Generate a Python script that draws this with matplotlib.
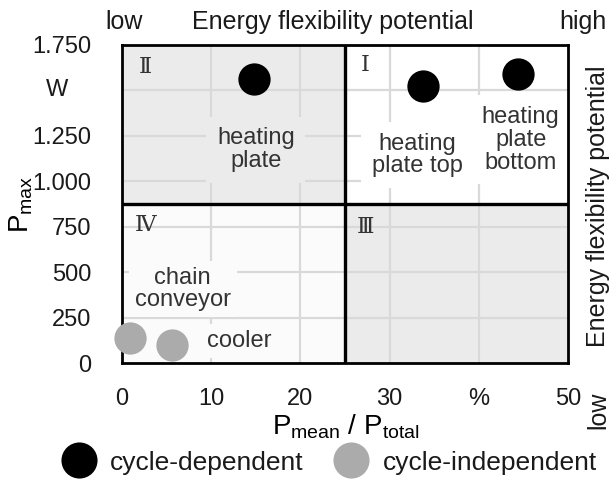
import matplotlib
matplotlib.use("Agg")
import matplotlib.pyplot as plt
from matplotlib.patches import Rectangle
from matplotlib.lines import Line2D

plt.rcParams['font.family'] = ['Liberation Sans', 'DejaVu Sans']
plt.rcParams['mathtext.fontset'] = 'custom'
plt.rcParams['mathtext.rm'] = 'Liberation Sans'
plt.rcParams['mathtext.it'] = 'Liberation Sans'

# ---- data ----
dep_names = ["heating\nplate", "heating\nplate top", "heating\nplate\nbottom"]
dep_x = [14.8, 33.8, 44.4]
dep_y = [1565, 1525, 1588]
dep_label_x = [15.0, 33.1, 44.7]
dep_label_y = [1173, 1145, 1228]

indep_names = ["chain\nconveyor", "cooler"]
indep_x = [0.9, 5.6]
indep_y = [138, 99]
indep_label_x = [6.8, 13.1]
indep_label_y = [407, 121]

x_ticks = [0, 10, 20, 30, 40, 50]
x_tick_labels = ["0", "10", "20", "30", "%", "50"]
y_ticks = [0, 250, 500, 750, 1000, 1250, 1500, 1750]
y_tick_labels = ["0", "250", "500", "750", "1.000", "1.250", "", "1.750"]

x_split = 25
y_split = 875
x_max = 50
y_max = 1750

quadrant_names = ["Ⅰ", "Ⅱ", "Ⅲ", "Ⅳ"]
quadrant_lx = [27.3, 2.6, 27.3, 2.6]
quadrant_ly = [1640, 1630, 750, 760]

legend_labels = ["cycle-dependent", "cycle-independent"]

# ---- colors ----
c_dep = "#000000"
c_indep = "#ababab"
bg_grey = "#ebebeb"
bg_white = "#ffffff"
bg_offwhite = "#fbfbfb"
grid_c = "#d9d9d9"
txt_c = "#1a1a1a"

fig = plt.figure(figsize=(6.11, 4.80), dpi=100)
ax = fig.add_axes([0.1997, 0.2437, 0.7299, 0.6626])
ax.set_xlim(0, x_max)
ax.set_ylim(0, y_max)

# quadrant backgrounds: I (top-right), II (top-left), III (bottom-right), IV (bottom-left)
quad_rects = [
    (x_split, y_split, x_max - x_split, y_max - y_split, bg_white),
    (0, y_split, x_split, y_max - y_split, bg_grey),
    (x_split, 0, x_max - x_split, y_split, bg_grey),
    (0, 0, x_split, y_split, bg_offwhite),
]
for (x0, y0, w, h, col) in quad_rects:
    ax.add_patch(Rectangle((x0, y0), w, h, facecolor=col, edgecolor='none', zorder=0))

# grid
for xv in x_ticks[1:-1]:
    ax.axvline(xv, color=grid_c, lw=1.6, zorder=1)
for yv in y_ticks[1:-1]:
    ax.axhline(yv, color=grid_c, lw=1.6, zorder=1)

# dividers
ax.axvline(x_split, color='black', lw=2.4, zorder=3)
ax.axhline(y_split, color='black', lw=2.4, zorder=3)

for s in ax.spines.values():
    s.set_linewidth(2.0)
    s.set_color('black')
    s.set_zorder(4)

ax.set_xticks(x_ticks)
ax.set_xticklabels(x_tick_labels)
ax.set_yticks(y_ticks)
ax.set_yticklabels(y_tick_labels)
ax.tick_params(axis='both', length=0, labelsize=17, colors=txt_c, labelcolor=txt_c)
ax.tick_params(axis='x', pad=18)
ax.tick_params(axis='y', pad=22)

# unit
ax.text(-0.146, 1500, "W", transform=ax.get_yaxis_transform(), ha='center', va='center',
        fontsize=17, color=txt_c)

# labels
dep_bg = [bg_grey, bg_white, bg_white]
for name, lx, ly, bgc in zip(dep_names, dep_label_x, dep_label_y, dep_bg):
    ax.text(lx, ly, name, ha='center', va='center', fontsize=17, color='#333333',
            linespacing=1.05, zorder=2,
            bbox=dict(boxstyle='square,pad=0.45', facecolor=bgc, edgecolor='none'))
indep_bg = [bg_offwhite, bg_offwhite]
for name, lx, ly, bgc in zip(indep_names, indep_label_x, indep_label_y, indep_bg):
    ax.text(lx, ly, name, ha='center', va='center', fontsize=17, color='#333333',
            linespacing=1.05, zorder=2,
            bbox=dict(boxstyle='square,pad=0.25', facecolor=bgc, edgecolor='none'))

for q, qx, qy in zip(quadrant_names, quadrant_lx, quadrant_ly):
    ax.text(qx, qy, q, ha='center', va='center', fontsize=16, color='#333333',
            family=['DejaVu Serif', 'Noto Sans CJK JP'], zorder=2)

# points
ax.scatter(dep_x, dep_y, s=540, color=c_dep, zorder=6, clip_on=False, linewidths=0)
ax.scatter(indep_x, indep_y, s=540, color=c_indep, zorder=6, clip_on=False, linewidths=0)

# axis labels
ax.set_xlabel(r"$\mathrm{P}_{\mathrm{mean}}$ / $\mathrm{P}_{\mathrm{total}}$", fontsize=20,
              color='black', labelpad=0)
ax.xaxis.set_label_coords(0.336, -0.155)
ax.xaxis.label.set_ha('left')
ax.set_ylabel(r"$\mathrm{P}_{\mathrm{max}}$", fontsize=20, color='black')
ax.yaxis.set_label_coords(-0.195, 0.5)

# top annotations
fig.text(124 / 611, 1 - 22 / 480, "low", ha='center', va='center', fontsize=18, color=txt_c)
fig.text(333 / 611, 1 - 22 / 480, "Energy flexibility potential", ha='center', va='center',
         fontsize=18, color=txt_c)
fig.text(583 / 611, 1 - 22 / 480, "high", ha='center', va='center', fontsize=18, color=txt_c)
fig.text(598 / 611, 1 - 206 / 480, "Energy flexibility potential", ha='center', va='center',
         rotation=90, fontsize=18, color=txt_c)
fig.text(598 / 611, 1 - 410 / 480, "low", ha='center', va='center', rotation=90,
         fontsize=18, color=txt_c)

# legend
handles = [
    Line2D([], [], marker='o', linestyle='none', markersize=26, color=c_dep, markeredgewidth=0),
    Line2D([], [], marker='o', linestyle='none', markersize=26, color=c_indep, markeredgewidth=0),
]
fig.legend(handles, legend_labels, loc='center', bbox_to_anchor=(0.538, 0.036), ncol=2,
           frameon=False, fontsize=19, handlelength=1.4, handletextpad=0.5,
           columnspacing=1.1, labelcolor=txt_c)

fig.savefig("out.png", dpi=100)
